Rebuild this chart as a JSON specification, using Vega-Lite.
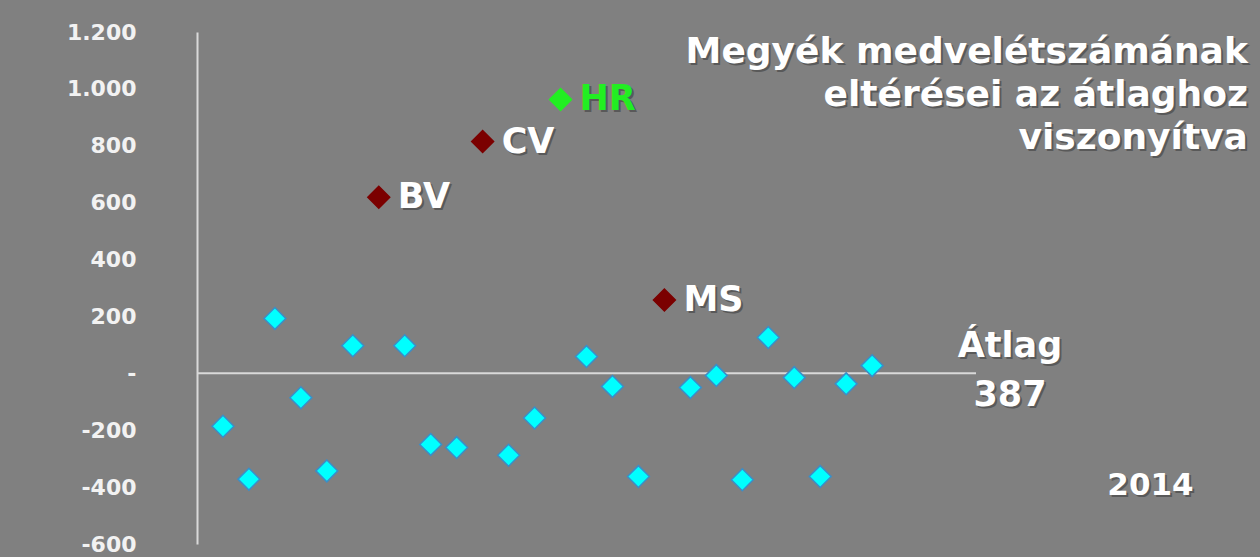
{
  "$schema": "https://vega.github.io/schema/vega-lite/v6.json",
  "autosize": {"type": "none"},
  "padding": {"left": 197, "top": 32, "right": 284, "bottom": 13},
  "width": 779,
  "height": 512,
  "background": "#808080",
  "config": {"view": {"stroke": null}},
  "datasets": {
    "points": [
      {"i": 1, "value": -186, "group": "other", "label": ""},
      {"i": 2, "value": -372, "group": "other", "label": ""},
      {"i": 3, "value": 193, "group": "other", "label": ""},
      {"i": 4, "value": -86, "group": "other", "label": ""},
      {"i": 5, "value": -343, "group": "other", "label": ""},
      {"i": 6, "value": 97, "group": "other", "label": ""},
      {"i": 7, "value": 619, "group": "red", "label": "BV"},
      {"i": 8, "value": 97, "group": "other", "label": ""},
      {"i": 9, "value": -250, "group": "other", "label": ""},
      {"i": 10, "value": -261, "group": "other", "label": ""},
      {"i": 11, "value": 815, "group": "red", "label": "CV"},
      {"i": 12, "value": -288, "group": "other", "label": ""},
      {"i": 13, "value": -157, "group": "other", "label": ""},
      {"i": 14, "value": 963, "group": "HR", "label": "HR"},
      {"i": 15, "value": 59, "group": "other", "label": ""},
      {"i": 16, "value": -46, "group": "other", "label": ""},
      {"i": 17, "value": -363, "group": "other", "label": ""},
      {"i": 18, "value": 258, "group": "red", "label": "MS"},
      {"i": 19, "value": -50, "group": "other", "label": ""},
      {"i": 20, "value": -8, "group": "other", "label": ""},
      {"i": 21, "value": -374, "group": "other", "label": ""},
      {"i": 22, "value": 126, "group": "other", "label": ""},
      {"i": 23, "value": -15, "group": "other", "label": ""},
      {"i": 24, "value": -363, "group": "other", "label": ""},
      {"i": 25, "value": -37, "group": "other", "label": ""},
      {"i": 26, "value": 27, "group": "other", "label": ""}
    ],
    "one": [{}]
  },
  "layer": [
    {
      "data": {"name": "points"},
      "mark": {"type": "point", "opacity": 0},
      "encoding": {
        "x": {"field": "i", "type": "quantitative", "scale": {"domain": [0, 30], "nice": false, "zero": false}, "axis": null},
        "y": {
          "field": "value", "type": "quantitative",
          "scale": {"domain": [-600, 1200], "nice": false},
          "axis": {
            "title": null,
            "values": [-600, -400, -200, 0, 200, 400, 600, 800, 1000, 1200],
            "labelExpr": "datum.value == 0 ? '-' : replace(replace(format(datum.value, ','), ',', '.'), '\u2212', '-')",
            "grid": false, "ticks": false,
            "domain": true, "domainColor": "#d9d9d9", "domainWidth": 2,
            "labelPadding": 61, "labelFont": "DejaVu Sans", "labelFontSize": 22, "labelFontWeight": "bold",
            "labelColor": "#f2f2f2", "labelFlush": false, "labelOverlap": false
          }
        }
      }
    },
    {
      "data": {"name": "one"},
      "mark": {"type": "rule", "color": "#d9d9d9", "strokeWidth": 2},
      "encoding": {"y": {"datum": 0}}
    },
    {
      "data": {"name": "points"},
      "mark": {"type": "point", "shape": "diamond", "size": 480, "filled": true, "opacity": 1, "strokeWidth": 1.5},
      "encoding": {
        "x": {"field": "i", "type": "quantitative"},
        "y": {"field": "value", "type": "quantitative"},
        "fill": {"field": "group", "type": "nominal", "scale": {"domain": ["other", "red", "HR"], "range": ["#00ffff", "#7b0000", "#22ee22"]}, "legend": null},
        "stroke": {"field": "group", "type": "nominal", "scale": {"domain": ["other", "red", "HR"], "range": ["#3a8ec8", "#7b0000", "#22ee22"]}, "legend": null}
      }
    },
    {
      "data": {"name": "points"},
      "transform": [{"filter": "datum.label != ''"}],
      "mark": {"type": "text", "align": "left", "baseline": "middle", "dx": 21, "dy": 2, "font": "DejaVu Sans", "fontWeight": "bold", "fontSize": 35, "color": "#333333", "opacity": 0.5},
      "encoding": {
        "x": {"field": "i", "type": "quantitative"},
        "y": {"field": "value", "type": "quantitative"},
        "text": {"field": "label"}
      }
    },
    {
      "data": {"name": "points"},
      "transform": [{"filter": "datum.label != ''"}],
      "mark": {"type": "text", "align": "left", "baseline": "middle", "dx": 19, "font": "DejaVu Sans", "fontWeight": "bold", "fontSize": 35},
      "encoding": {
        "x": {"field": "i", "type": "quantitative"},
        "y": {"field": "value", "type": "quantitative"},
        "text": {"field": "label"},
        "color": {"field": "group", "type": "nominal", "scale": {"domain": ["red", "HR"], "range": ["#ffffff", "#22ee22"]}, "legend": null}
      }
    },
    {
      "data": {"name": "one"},
      "mark": {"type": "text", "align": "right", "baseline": "alphabetic", "lineHeight": 43, "dx": 2, "dy": 2, "font": "DejaVu Sans", "fontWeight": "bold", "fontSize": 36, "color": "#333333", "opacity": 0.5},
      "encoding": {
        "x": {"datum": 40.47},
        "y": {"datum": 1092},
        "text": {"value": ["Megyék medvelétszámának", "eltérései az átlaghoz", "viszonyítva"]}
      }
    },
    {
      "data": {"name": "one"},
      "mark": {"type": "text", "align": "right", "baseline": "alphabetic", "lineHeight": 43, "font": "DejaVu Sans", "fontWeight": "bold", "fontSize": 36, "color": "#ffffff"},
      "encoding": {
        "x": {"datum": 40.47},
        "y": {"datum": 1092},
        "text": {"value": ["Megyék medvelétszámának", "eltérései az átlaghoz", "viszonyítva"]}
      }
    },
    {
      "data": {"name": "one"},
      "mark": {"type": "text", "align": "center", "baseline": "alphabetic", "lineHeight": 49, "dx": 2, "dy": 2, "font": "DejaVu Sans", "fontWeight": "bold", "fontSize": 35, "color": "#333333", "opacity": 0.5},
      "encoding": {
        "x": {"datum": 31.31},
        "y": {"datum": 56},
        "text": {"value": ["Átlag", "387"]}
      }
    },
    {
      "data": {"name": "one"},
      "mark": {"type": "text", "align": "center", "baseline": "alphabetic", "lineHeight": 49, "font": "DejaVu Sans", "fontWeight": "bold", "fontSize": 35, "color": "#ffffff"},
      "encoding": {
        "x": {"datum": 31.31},
        "y": {"datum": 56},
        "text": {"value": ["Átlag", "387"]}
      }
    },
    {
      "data": {"name": "one"},
      "mark": {"type": "text", "align": "center", "baseline": "alphabetic", "dx": 2, "dy": 2, "font": "DejaVu Sans", "fontWeight": "bold", "fontSize": 31, "color": "#333333", "opacity": 0.5},
      "encoding": {
        "x": {"datum": 36.72},
        "y": {"datum": -429},
        "text": {"value": "2014"}
      }
    },
    {
      "data": {"name": "one"},
      "mark": {"type": "text", "align": "center", "baseline": "alphabetic", "font": "DejaVu Sans", "fontWeight": "bold", "fontSize": 31, "color": "#ffffff"},
      "encoding": {
        "x": {"datum": 36.72},
        "y": {"datum": -429},
        "text": {"value": "2014"}
      }
    }
  ]
}
